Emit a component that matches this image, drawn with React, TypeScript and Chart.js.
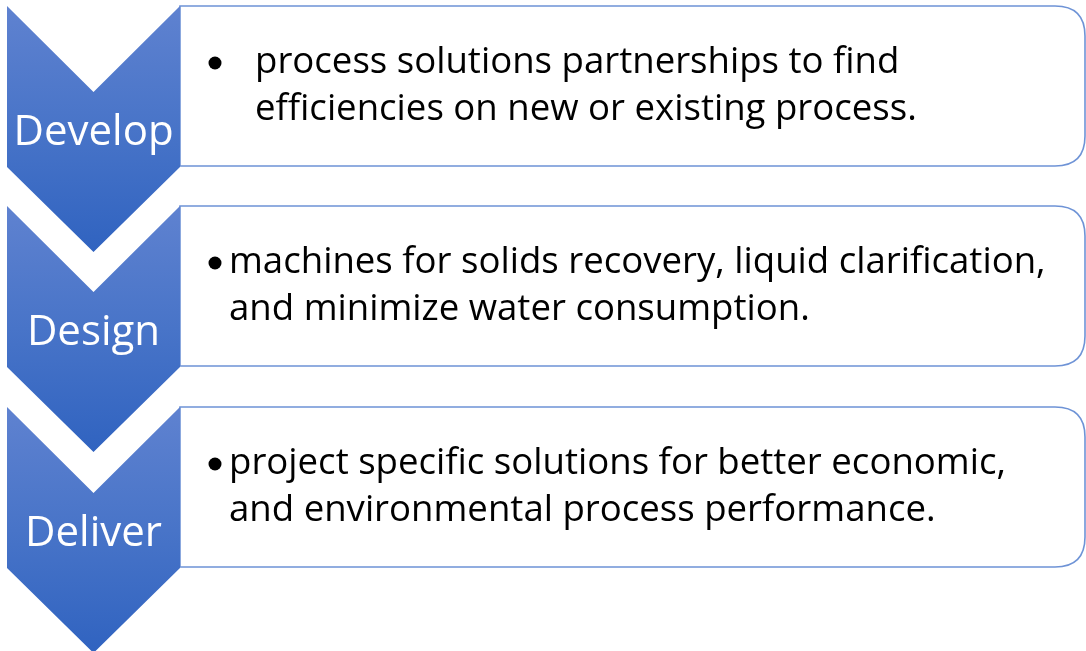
import React, { useEffect, useRef } from "react";
import { Chart, registerables } from "chart.js";

Chart.register(...registerables);

// ---- content ----
const stages = ["Develop", "Design", "Deliver"];
const lineOne = [
  "process solutions partnerships to find",
  "machines for solids recovery, liquid clarification,",
  "project specific solutions for better economic,",
];
const lineTwo = [
  "efficiencies on new or existing process.",
  "and minimize water consumption.",
  "and environmental process performance.",
];
const stageTops = [6, 206, 407];

const W = 1086;
const H = 651;

const diagramPlugin = {
  id: "diagram",
  afterDraw(chart: any) {
    const ctx: CanvasRenderingContext2D = chart.ctx;
    const xs = chart.scales.x;
    const ys = chart.scales.y;
    const px = (v: number) => xs.getPixelForValue(v);
    const py = (v: number) => ys.getPixelForValue(v);

    const chevL = 7, chevR = 180, notch = 86, side = 161, point = 85;
    const boxR = 1085, boxH = 160, rad = 30;
    const cx = (chevL + chevR) / 2;

    ctx.save();
    stages.forEach((name, i) => {
      const top = stageTops[i];
      ctx.beginPath();
      ctx.moveTo(px(chevR), py(top));
      ctx.lineTo(px(boxR - rad), py(top));
      ctx.quadraticCurveTo(px(boxR), py(top), px(boxR), py(top + rad));
      ctx.lineTo(px(boxR), py(top + boxH - rad));
      ctx.quadraticCurveTo(px(boxR), py(top + boxH), px(boxR - rad), py(top + boxH));
      ctx.lineTo(px(chevR), py(top + boxH));
      ctx.closePath();
      ctx.fillStyle = "#ffffff";
      ctx.fill();
      ctx.strokeStyle = "#6e93d6";
      ctx.lineWidth = 1.6;
      ctx.stroke();
    });

    stages.forEach((name, i) => {
      const top = stageTops[i];
      const g = ctx.createLinearGradient(0, py(top), 0, py(top + side + point));
      g.addColorStop(0, "#5f82d0");
      g.addColorStop(0.5, "#4874c8");
      g.addColorStop(1, "#3063c0");
      ctx.beginPath();
      ctx.moveTo(px(chevL), py(top));
      ctx.lineTo(px(cx), py(top + notch));
      ctx.lineTo(px(chevR), py(top));
      ctx.lineTo(px(chevR), py(top + side));
      ctx.lineTo(px(cx), py(top + side + point));
      ctx.lineTo(px(chevL), py(top + side));
      ctx.closePath();
      ctx.fillStyle = g;
      ctx.fill();

      ctx.fillStyle = "#ffffff";
      ctx.font = "42px 'Open Sans', sans-serif";
      ctx.textAlign = "center";
      ctx.textBaseline = "alphabetic";
      ctx.fillText(name, px(cx), py(top + 139));

      ctx.fillStyle = "#000000";
      ctx.font = "36.6px 'Open Sans', sans-serif";
      ctx.textAlign = "left";
      ctx.textBaseline = "alphabetic";
      const textX = i === 0 ? 255 : 229;
      ctx.beginPath();
      ctx.arc(px(215), py(top + 57), 6.5, 0, Math.PI * 2);
      ctx.fill();
      ctx.fillText(lineOne[i], px(textX), py(top + 67));
      ctx.fillText(lineTwo[i], px(textX), py(top + 114));
    });
    ctx.restore();
  },
};

export default function App() {
  const ref = useRef<HTMLCanvasElement | null>(null);
  useEffect(() => {
    document.body.style.margin = "0";
    const c = ref.current;
    if (!c) return;
    const chart = new Chart(c, {
      type: "scatter",
      data: { datasets: [{ data: [], pointRadius: 0 }] },
      options: {
        animation: false,
        responsive: false,
        maintainAspectRatio: false,
        layout: { padding: 0 },
        plugins: { legend: { display: false }, tooltip: { enabled: false } },
        scales: {
          x: { type: "linear", min: 0, max: W, display: false },
          y: { type: "linear", min: 0, max: H, reverse: true, display: false },
        },
      },
      plugins: [diagramPlugin],
    });
    return () => chart.destroy();
  }, []);
  return (
    <div style={{ width: W, height: H, background: "#fff" }}>
      <canvas ref={ref} width={W} height={H} style={{ display: "block" }} />
    </div>
  );
}
